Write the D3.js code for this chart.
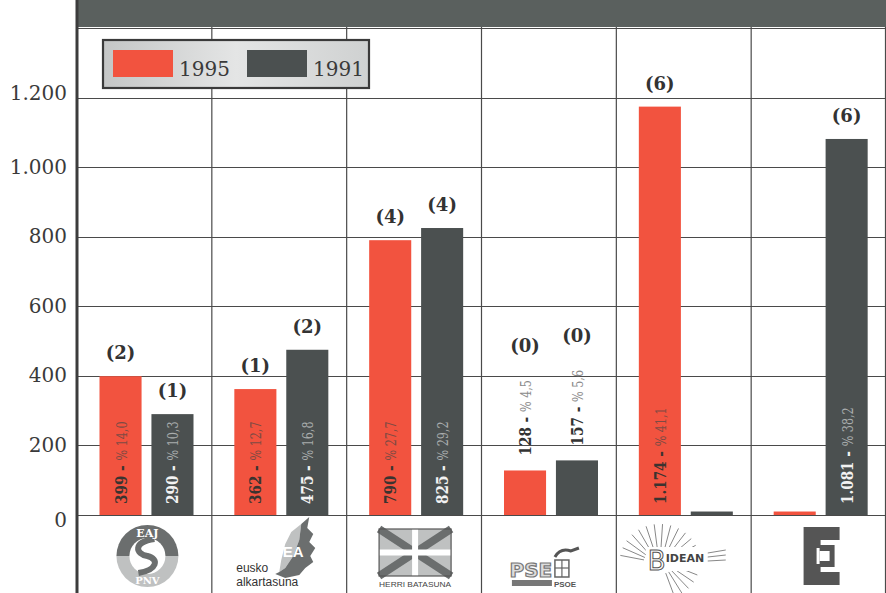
<!DOCTYPE html>
<html>
<head>
<meta charset="utf-8">
<script src="https://cdn.jsdelivr.net/npm/d3@7"></script>
<style>
  html, body { margin: 0; padding: 0; background: #ffffff; }
  svg { display: block; }
</style>
</head>
<body>
<svg id="chart" width="886" height="593"></svg>
<script>
// ---- data ----
const categories = ["EAJ-PNV", "EA", "HB", "PSE-PSOE", "BIDEAN", "EE"];
const series = ["1995", "1991"];
const votes1995 = [399, 362, 790, 128, 1174, 10];
const votes1991 = [290, 475, 825, 157, 10, 1081];
const pct1995 = ["14,0", "12,7", "27,7", "4,5", "41,1", null];
const pct1991 = ["10,3", "16,8", "29,2", "5,6", null, "38,2"];
const seats1995 = [2, 1, 4, 0, 6, null];
const seats1991 = [1, 2, 4, 0, null, 6];
const yTicks = [0, 200, 400, 600, 800, 1000, 1200];

// ---- styling ----
const RED = "#f2533f", DARK = "#4b5050", GRID = "#4a4a4a";
const W = 886, H = 593;
const plotLeft = 77, plotRight = 886, plotTop = 28, plotBase = 515;
const LABEL_SCALE = 0.8;

const svg = d3.select("#chart");
svg.append("rect").attr("width", W).attr("height", H).attr("fill", "#fff");

const loc = d3.formatLocale({decimal: ",", thousands: ".", grouping: [3], currency: ["", ""]});
const fmt = loc.format(",");

const y = d3.scaleLinear().domain([0, 1400]).range([plotBase, plotTop]);
const x = d3.scaleBand().domain(categories).range([plotLeft, plotRight]).padding(0);
const x1 = d3.scaleBand().domain(series).range([22.5, 22.5 + 94]).paddingInner(0.19);

const rows = categories.map((c, i) => ({
  cat: c,
  bars: [
    {s: "1995", v: votes1995[i], p: pct1995[i], seats: seats1995[i]},
    {s: "1991", v: votes1991[i], p: pct1991[i], seats: seats1991[i]}
  ]
}));

// top band
svg.append("rect").attr("x", plotLeft).attr("y", 0).attr("width", plotRight - plotLeft).attr("height", 27).attr("fill", "#5a605e");

// horizontal gridlines
const g = svg.append("g");
g.selectAll("line.h").data(yTicks.concat([1400])).join("line")
  .attr("x1", plotLeft).attr("x2", plotRight)
  .attr("y1", d => Math.round(y(d)) + 0.5).attr("y2", d => Math.round(y(d)) + 0.5)
  .attr("stroke", GRID).attr("stroke-width", 1.2);
// vertical category separators
const sepX = categories.slice(1).map(c => x(c)).concat([plotRight - 0.5]);
g.selectAll("line.v").data(sepX).join("line")
  .attr("x1", d => d).attr("x2", d => d)
  .attr("y1", 27).attr("y2", H)
  .attr("stroke", GRID).attr("stroke-width", 1.2);

// y axis
const yAxis = d3.axisLeft(y).tickValues(yTicks).tickFormat(fmt).tickSize(0).tickPadding(10);
const ya = svg.append("g").attr("transform", `translate(${plotLeft},0)`).call(yAxis);
ya.select(".domain").remove();
ya.selectAll("text")
  .attr("font-family", "'DejaVu Serif', serif").attr("font-size", 20)
  .attr("fill", "#3a3a3a").attr("dy", d => d === 0 ? "0.55em" : (d === 1200 ? "0.1em" : "0.3em"));
svg.append("line").attr("x1", plotLeft).attr("x2", plotLeft).attr("y1", 0).attr("y2", H)
  .attr("stroke", "#3c3c3c").attr("stroke-width", 3);

// bars
const cg = svg.selectAll("g.cat").data(rows).join("g")
  .attr("class", "cat").attr("transform", d => `translate(${x(d.cat)},0)`);

cg.selectAll("rect.bar").data(d => d.bars).join("rect")
  .attr("class", "bar")
  .attr("x", d => x1(d.s)).attr("width", x1.bandwidth())
  .attr("y", d => y(d.v)).attr("height", d => plotBase - y(d.v))
  .attr("fill", d => d.s === "1995" ? RED : DARK);

// value labels (vertical) and seat labels
cg.each(function(row) {
  const sel = d3.select(this);
  row.bars.forEach(b => {
    const cx = x1(b.s) + x1.bandwidth() / 2;
    let seatY = y(b.v) - 17;
    if (b.p !== null) {
      const barH = plotBase - y(b.v);
      const inside = barH > 95;
      const startY = inside ? plotBase - 11 : y(b.v) - 15;
      const numCol = inside ? (b.s === "1995" ? "#3b3330" : "#f2f2f2") : "#333";
      const pctCol = inside ? (b.s === "1995" ? "#7e4a43" : "#a9adad") : "#8a8a8a";
      const t = sel.append("text")
        .attr("transform", `translate(${cx + 6},${startY}) rotate(-90) scale(${LABEL_SCALE},1)`)
        .attr("font-family", "'DejaVu Serif', serif");
      t.append("tspan").attr("font-weight", "bold").attr("font-size", 17)
        .attr("fill", numCol).text(fmt(b.v) + " - ");
      t.append("tspan").attr("font-size", 14).attr("fill", pctCol).text("% " + b.p);
      if (!inside) {
        const len = t.node().getComputedTextLength() * LABEL_SCALE;
        seatY = startY - len - 28;
      }
    }
    if (b.seats !== null) {
      sel.append("text")
        .attr("x", cx).attr("y", seatY)
        .attr("text-anchor", "middle")
        .attr("font-family", "'DejaVu Serif', serif").attr("font-weight", "bold")
        .attr("font-size", 18).attr("fill", "#333")
        .text(`(${b.seats})`);
    }
  });
});

// legend
const lg = svg.append("g").attr("transform", "translate(103,40)");
const grad = svg.append("defs").append("linearGradient").attr("id", "lgGrad")
  .attr("x1", 0).attr("x2", 1).attr("y1", 0).attr("y2", 0);
grad.append("stop").attr("offset", "0%").attr("stop-color", "#c4c6c6");
grad.append("stop").attr("offset", "50%").attr("stop-color", "#e4e5e5");
grad.append("stop").attr("offset", "100%").attr("stop-color", "#cfd1d1");
lg.append("rect").attr("width", 266).attr("height", 48).attr("fill", "url(#lgGrad)")
  .attr("stroke", "#3a3a3a").attr("stroke-width", 2.2);
const legendItems = [{s: "1995", c: RED, x: 10}, {s: "1991", c: DARK, x: 144}];
lg.selectAll("rect.sw").data(legendItems).join("rect")
  .attr("x", d => d.x).attr("y", 10).attr("width", 60).attr("height", 27).attr("fill", d => d.c);
lg.selectAll("text.lt").data(legendItems).join("text")
  .attr("x", d => d.x + 66).attr("y", 36)
  .attr("font-family", "'DejaVu Serif', serif").attr("font-size", 20).attr("fill", "#3a3a3a")
  .text(d => d.s);

// ---- party logos ----
const LOGO_DARK = "#6b6e6e", LOGO_LIGHT = "#bfc1c1";
function cxOf(i) { return x(categories[i]) + x.bandwidth() / 2; }

// EAJ-PNV
(function() {
  const cx = cxOf(0) + 3, cy = 556, r = 31;
  const l = svg.append("g");
  l.append("path").attr("d", d3.arc()({innerRadius: 0, outerRadius: r, startAngle: -Math.PI / 2, endAngle: Math.PI / 2}))
    .attr("transform", `translate(${cx},${cy})`).attr("fill", LOGO_DARK);
  l.append("path").attr("d", d3.arc()({innerRadius: 0, outerRadius: r, startAngle: Math.PI / 2, endAngle: 3 * Math.PI / 2}))
    .attr("transform", `translate(${cx},${cy})`).attr("fill", LOGO_LIGHT);
  l.append("circle").attr("cx", cx).attr("cy", cy).attr("r", 18).attr("fill", "#fff");
  l.append("path").attr("d", `M${cx + 7},${cy - 17} C${cx - 15},${cy - 14} ${cx - 12},${cy - 2} ${cx},${cy} C${cx + 12},${cy + 3} ${cx + 10},${cy + 14} ${cx - 9},${cy + 17}`)
    .attr("fill", "none").attr("stroke", LOGO_DARK).attr("stroke-width", 6);
  l.append("text").attr("x", cx).attr("y", cy - 19).attr("text-anchor", "middle")
    .attr("font-family", "'DejaVu Serif', serif").attr("font-weight", "bold").attr("font-size", 11)
    .attr("fill", "#fff").text("EAJ");
  l.append("text").attr("x", cx).attr("y", cy + 28).attr("text-anchor", "middle")
    .attr("font-family", "'DejaVu Serif', serif").attr("font-weight", "bold").attr("font-size", 10)
    .attr("fill", "#fff").text("PNV");
})();

// EA
(function() {
  const cx = cxOf(1);
  const l = svg.append("g");
  l.append("path").attr("d", `M${cx + 12},532 L${cx + 22},524 L${cx + 20},540 L${cx + 14},556 L${cx + 6},568 L${cx},572 L${cx + 2},560 L${cx + 6},544 Z`)
    .attr("fill", LOGO_LIGHT);
  l.append("path").attr("d", `M${cx + 22},524 L${cx + 30},517 L${cx + 28},528 L${cx + 34},534 L${cx + 30},542 L${cx + 36},548 L${cx + 31},556 L${cx + 34},562 L${cx + 26},568 L${cx + 20},575 L${cx + 6},578 L${cx - 4},574 L${cx},572 L${cx + 6},568 L${cx + 14},556 L${cx + 20},540 Z`)
    .attr("fill", LOGO_DARK);
  l.append("text").attr("x", cx + 14).attr("y", 557).attr("text-anchor", "middle")
    .attr("font-family", "'Liberation Sans', sans-serif").attr("font-weight", "bold").attr("font-size", 15)
    .attr("fill", "#fff").text("EA");
  l.append("text").attr("x", cx - 43).attr("y", 572)
    .attr("font-family", "'Liberation Sans', sans-serif").attr("font-size", 12).attr("fill", "#333").text("eusko");
  l.append("text").attr("x", cx - 43).attr("y", 586)
    .attr("font-family", "'Liberation Sans', sans-serif").attr("font-size", 12).attr("fill", "#333").text("alkartasuna");
})();

// HB
(function() {
  const cx = cxOf(2) + 1, x0 = cx - 36, y0 = 529, w = 72, h = 47;
  const l = svg.append("g");
  l.append("rect").attr("x", x0).attr("y", y0).attr("width", w).attr("height", h).attr("fill", LOGO_LIGHT);
  l.append("line").attr("x1", x0).attr("y1", y0).attr("x2", x0 + w).attr("y2", y0 + h).attr("stroke", LOGO_DARK).attr("stroke-width", 8);
  l.append("line").attr("x1", x0 + w).attr("y1", y0).attr("x2", x0).attr("y2", y0 + h).attr("stroke", LOGO_DARK).attr("stroke-width", 8);
  l.append("rect").attr("x", cx - 3).attr("y", y0).attr("width", 6).attr("height", h).attr("fill", "#fff");
  l.append("rect").attr("x", x0).attr("y", y0 + h / 2 - 3).attr("width", w).attr("height", 6).attr("fill", "#fff");
  l.append("rect").attr("x", x0).attr("y", y0).attr("width", w).attr("height", h).attr("fill", "none")
    .attr("stroke", "#555").attr("stroke-width", 1.2);
  l.append("text").attr("x", x0).attr("y", 587)
    .attr("font-family", "'Liberation Sans Narrow', 'Liberation Sans', sans-serif").attr("font-size", 8)
    .attr("fill", "#444").attr("textLength", 72).attr("lengthAdjust", "spacingAndGlyphs").text("HERRI BATASUNA");
})();

// PSE-PSOE
(function() {
  const cx = cxOf(3);
  const l = svg.append("g");
  l.append("text").attr("x", cx - 18).attr("y", 577).attr("text-anchor", "middle")
    .attr("font-family", "'DejaVu Sans', sans-serif").attr("font-weight", "bold").attr("font-size", 20)
    .attr("fill", "#ddd").attr("stroke", "#777").attr("stroke-width", 1.2).text("PSE");
  l.append("rect").attr("x", cx + 6).attr("y", 560).attr("width", 14).attr("height", 17).attr("fill", "#fff")
    .attr("stroke", "#666").attr("stroke-width", 1.5);
  l.append("line").attr("x1", cx + 13).attr("x2", cx + 13).attr("y1", 560).attr("y2", 577).attr("stroke", "#666").attr("stroke-width", 1.2);
  l.append("line").attr("x1", cx + 6).attr("x2", cx + 20).attr("y1", 568).attr("y2", 568).attr("stroke", "#666").attr("stroke-width", 1.2);
  l.append("path").attr("d", `M${cx + 6},557 C${cx + 10},550 ${cx + 16},549 ${cx + 22},551 L${cx + 30},548`).attr("stroke", "#555").attr("stroke-width", 3).attr("fill", "none");
  l.append("rect").attr("x", cx - 37).attr("y", 580).attr("width", 40).attr("height", 6).attr("fill", "#777");
  l.append("text").attr("x", cx + 5).attr("y", 587)
    .attr("font-family", "'Liberation Sans', sans-serif").attr("font-weight", "bold").attr("font-size", 8)
    .attr("fill", "#555").text("PSOE");
})();

// BIDEAN
(function() {
  const cx = cxOf(4);
  const l = svg.append("g");
  const ox = cx - 24, oy = 562;
  const angles = d3.range(-170, -20, 12).concat(d3.range(20, 80, 12));
  l.selectAll("line").data(angles).join("line")
    .attr("x1", d => ox + Math.cos(d * Math.PI / 180) * 16)
    .attr("y1", d => oy + Math.sin(d * Math.PI / 180) * 12)
    .attr("x2", d => ox + Math.cos(d * Math.PI / 180) * 40)
    .attr("y2", d => oy + Math.sin(d * Math.PI / 180) * 38)
    .attr("stroke", "#888").attr("stroke-width", 1);
  l.append("rect").attr("x", cx - 38).attr("y", 547).attr("width", 76).attr("height", 24).attr("fill", "#fff");
  l.append("text").attr("x", cx - 36).attr("y", 570)
    .attr("font-family", "'DejaVu Sans', sans-serif").attr("font-size", 26)
    .attr("fill", "#fff").attr("stroke", "#555").attr("stroke-width", 1).text("B");
  l.append("text").attr("x", cx - 18).attr("y", 562)
    .attr("font-family", "'DejaVu Sans', sans-serif").attr("font-weight", "bold").attr("font-size", 11)
    .attr("fill", "#444").text("IDEAN");
  [0, 1, 2].forEach(k => l.append("line").attr("x1", cx + 24).attr("x2", cx + 42)
    .attr("y1", 553 + k * 4).attr("y2", 550 + k * 5).attr("stroke", "#888"));
})();

// EE
(function() {
  const cx = cxOf(5), x0 = cx - 15, y0 = 527;
  const l = svg.append("g");
  l.append("path").attr("d",
    `M${x0},${y0} H${x0 + 36} V${y0 + 13} H${x0 + 17} V${y0 + 18} H${x0 + 31} V${y0 + 40} H${x0 + 17} V${y0 + 45} H${x0 + 36} V${y0 + 58} H${x0} Z`)
    .attr("fill", "#555");
  l.append("rect").attr("x", x0 + 16).attr("y", y0 + 24).attr("width", 10).attr("height", 10).attr("fill", "#fff");
  l.append("rect").attr("x", x0 + 13).attr("y", y0 + 21).attr("width", 3).attr("height", 16).attr("fill", "#fff");
})();
</script>
</body>
</html>
